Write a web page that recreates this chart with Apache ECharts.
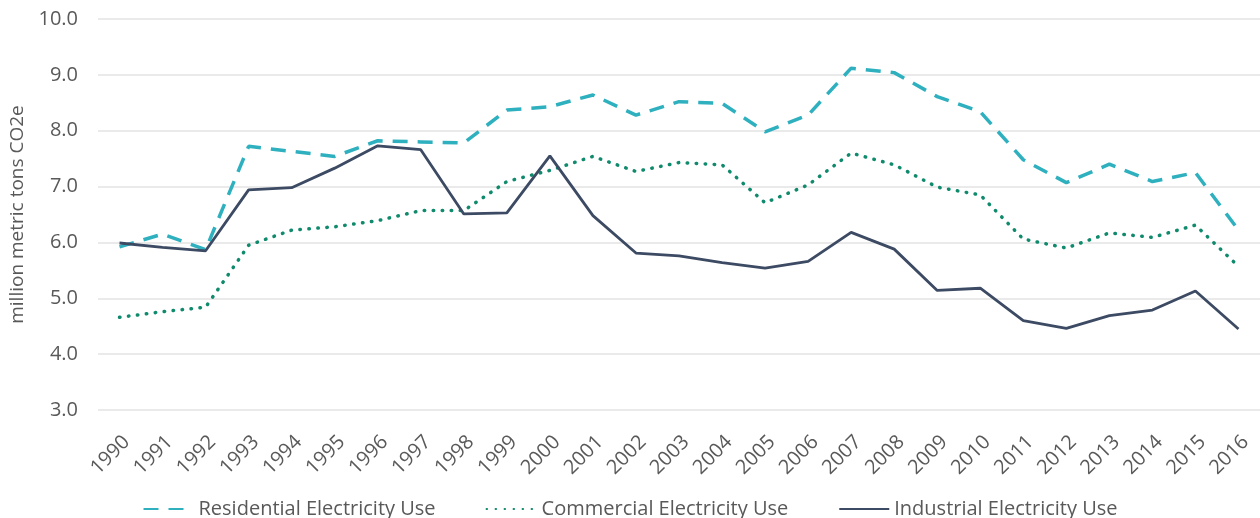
<!DOCTYPE html>
<html>
<head>
<meta charset="utf-8">
<script src="https://cdn.jsdelivr.net/npm/echarts@6/dist/echarts.min.js"></script>
<style>
  html, body { margin: 0; padding: 0; background: #fff; }
  #chart { width: 1260px; height: 518px; }
</style>
</head>
<body>
<div id="chart"></div>
<script>
// years on the x axis
var years = ['1990','1991','1992','1993','1994','1995','1996','1997','1998','1999',
  '2000','2001','2002','2003','2004','2005','2006','2007','2008','2009',
  '2010','2011','2012','2013','2014','2015','2016'];

// million metric tons CO2e
var residential = [5.92, 6.15, 5.87, 7.72, 7.63, 7.54, 7.82, 7.80, 7.78, 8.37,
  8.43, 8.64, 8.28, 8.52, 8.49, 7.98, 8.28, 9.12, 9.04, 8.61,
  8.34, 7.48, 7.07, 7.40, 7.09, 7.25, 6.22];
var commercial = [4.66, 4.76, 4.84, 5.95, 6.22, 6.28, 6.39, 6.57, 6.57, 7.09,
  7.29, 7.54, 7.27, 7.43, 7.39, 6.71, 7.03, 7.60, 7.39, 6.99,
  6.85, 6.06, 5.90, 6.17, 6.09, 6.31, 5.57];
var industrial = [5.99, 5.91, 5.85, 6.94, 6.98, 7.33, 7.73, 7.66, 6.51, 6.53,
  7.55, 6.48, 5.81, 5.76, 5.64, 5.54, 5.66, 6.18, 5.88, 5.14,
  5.18, 4.60, 4.46, 4.69, 4.79, 5.13, 4.45];

var seriesNames = ['Residential Electricity Use', 'Commercial Electricity Use', 'Industrial Electricity Use'];

var font = '"Open Sans", sans-serif';
var textColor = '#595959';

var myChart = echarts.init(document.getElementById('chart'));

var option = {
  backgroundColor: '#fff',
  animation: false,
  grid: { left: 98, right: 0, top: 19, bottom: 108 },
  legend: {
    data: seriesNames,
    left: 'center',
    top: 494,
    itemWidth: 50,
    itemHeight: 14,
    itemGap: 50,
    itemStyle: { opacity: 0 },
    textStyle: { color: textColor, fontSize: 20, fontFamily: font }
  },
  xAxis: {
    type: 'category',
    data: years,
    boundaryGap: true,
    axisLine: { show: false },
    axisTick: { show: false },
    axisLabel: {
      rotate: 45, color: textColor, fontSize: 20, fontFamily: font,
      margin: 36, interval: 0, padding: [0, -10, 0, 0]
    }
  },
  yAxis: {
    type: 'value',
    min: 3,
    max: 10,
    interval: 1,
    name: 'million metric tons CO2e',
    nameLocation: 'middle',
    nameGap: 68,
    nameTextStyle: { color: textColor, fontSize: 19, fontFamily: font },
    axisLabel: {
      color: textColor, fontSize: 20, fontFamily: font, margin: 20,
      formatter: function (v) { return v.toFixed(1); }
    },
    splitLine: { lineStyle: { color: '#e3e3e3', width: 1.5 } }
  },
  series: [
    {
      name: seriesNames[0],
      type: 'line',
      data: residential,
      symbol: 'none',
      lineStyle: { color: '#2eb0bf', width: 3.5, type: [15, 10] },
      itemStyle: { color: '#2eb0bf' },
      z: 3
    },
    {
      name: seriesNames[1],
      type: 'line',
      data: commercial,
      symbol: 'none',
      lineStyle: { color: '#0f8a6c', width: 3.5, type: [0.5, 8.5], cap: 'round' },
      itemStyle: { color: '#0f8a6c' },
      z: 2
    },
    {
      name: seriesNames[2],
      type: 'line',
      data: industrial,
      symbol: 'none',
      lineStyle: { color: '#3c4a63', width: 2.8 },
      itemStyle: { color: '#3c4a63' },
      z: 4
    }
  ]
};

myChart.setOption(option);
</script>
</body>
</html>
